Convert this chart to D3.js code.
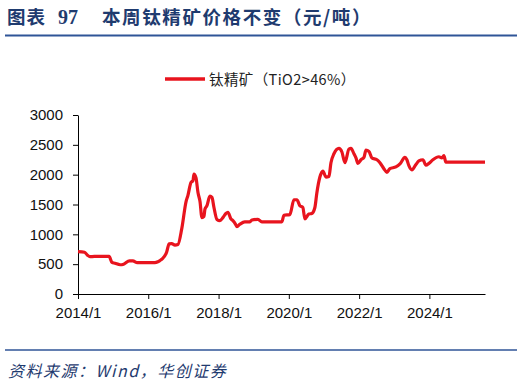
<!DOCTYPE html>
<html>
<head>
<meta charset="utf-8">
<script src="https://cdn.jsdelivr.net/npm/d3@7"></script>
<style>
  body { margin: 0; background: #fff; }
  svg { display: block; }
</style>
</head>
<body>
<svg id="chart" width="524" height="385"></svg>
<script>
// 钛精矿（TiO2>46%）价格，元/吨，读自原图
const dates = [
  "2014-01-01", "2014-03-10", "2014-04-10", "2014-05-05", "2014-06-20", "2014-11-20",
  "2014-12-20", "2015-01-20", "2015-03-15", "2015-04-20", "2015-06-20", "2015-07-25",
  "2015-09-10", "2016-03-10", "2016-04-10", "2016-05-01", "2016-06-01", "2016-07-10",
  "2016-08-05", "2016-09-01", "2016-10-05", "2016-11-05", "2016-12-15", "2017-01-28",
  "2017-02-16", "2017-03-20", "2017-04-10", "2017-04-20", "2017-05-11", "2017-06-01",
  "2017-06-22", "2017-07-12", "2017-08-02", "2017-08-12", "2017-09-02", "2017-10-03",
  "2017-10-24", "2017-11-14", "2017-12-15", "2018-01-15", "2018-02-15", "2018-03-18",
  "2018-04-08", "2018-05-09", "2018-05-30", "2018-06-30", "2018-07-11", "2018-08-11",
  "2018-10-01", "2018-11-23", "2018-12-13", "2019-02-14", "2019-03-27", "2019-10-21",
  "2019-11-11", "2020-01-12", "2020-02-23", "2020-03-25", "2020-04-25", "2020-05-26",
  "2020-06-16", "2020-07-27", "2020-08-27", "2020-09-28", "2020-10-18", "2020-11-19",
  "2020-12-20", "2021-01-21", "2021-02-21", "2021-03-14", "2021-04-14", "2021-06-05",
  "2021-07-06", "2021-08-06", "2021-09-17", "2021-10-08", "2021-11-08", "2021-11-29",
  "2021-12-19", "2022-01-20", "2022-02-20", "2022-03-13", "2022-04-13", "2022-05-14",
  "2022-07-05", "2022-08-05", "2022-09-15", "2022-10-16", "2022-11-17", "2023-01-18",
  "2023-03-01", "2023-04-22", "2023-05-12", "2023-06-02", "2023-07-03", "2023-08-14",
  "2023-09-14", "2023-10-26", "2023-11-26", "2023-12-27", "2024-02-07", "2024-04-09",
  "2024-05-10", "2024-05-31", "2024-06-20", "2025-08-01"
];
const prices = [
  710, 700, 650, 625, 630, 630,
  530, 515, 490, 500, 555, 555,
  525, 525, 540, 560, 600, 700,
  840, 845, 820, 830, 1100, 1550,
  1650, 1870, 1900, 2010, 1950, 1700,
  1550, 1280, 1300, 1420, 1480, 1640,
  1620, 1450, 1250, 1230, 1280, 1350,
  1370, 1260, 1230, 1160, 1130, 1170,
  1210, 1210, 1240, 1250, 1210, 1210,
  1320, 1330, 1580, 1580, 1480, 1450,
  1260, 1340, 1350, 1450, 1690, 1960,
  2060, 1960, 1970, 2200, 2350, 2440,
  2380, 2200, 2430, 2440, 2350, 2280,
  2190, 2250, 2290, 2410, 2390, 2280,
  2250, 2200, 2100, 2040, 2100, 2130,
  2180, 2290, 2250, 2150, 2080, 2170,
  2230, 2250, 2160, 2190, 2250, 2300,
  2280, 2320, 2210, 2210
];
const yTicks = [0, 500, 1000, 1500, 2000, 2500, 3000];
const xTickLabels = ["2014/1", "2016/1", "2018/1", "2020/1", "2022/1", "2024/1"];

const parse = d3.timeParse("%Y-%m-%d");
const data = dates.map((d, i) => ({ date: parse(d), value: prices[i] }));

const svg = d3.select("#chart");
const plotLeft = 78, plotRight = 485, plotTop = 115, plotBottom = 294;

const x = d3.scaleTime()
  .domain([parse("2014-01-01"), parse("2025-08-01")])
  .range([plotLeft, plotRight]);
const y = d3.scaleLinear().domain([0, 3000]).range([plotBottom, plotTop]);

// 标题
const title = svg.append("text")
  .attr("x", 7).attr("y", 24)
  .attr("fill", "#1f3b6f")
  .attr("font-family", "'Noto Sans CJK SC', sans-serif")
  .attr("font-weight", "bold")
  .attr("font-size", 18.5);
title.append("tspan").attr("letter-spacing", 1).text("图表");
title.append("tspan").attr("x", 58).attr("font-family", "'Liberation Serif', serif").attr("font-size", 20).text("97");
title.append("tspan").attr("x", 102).attr("letter-spacing", 1.6).text("本周钛精矿价格不变（元/吨）");

svg.append("line")
  .attr("x1", 5).attr("x2", 517).attr("y1", 35.5).attr("y2", 35.5)
  .attr("stroke", "#2f5597").attr("stroke-width", 2);

// 图例
svg.append("line")
  .attr("x1", 165).attr("x2", 205).attr("y1", 79).attr("y2", 79)
  .attr("stroke", "#e8141e").attr("stroke-width", 3.5);
svg.append("text")
  .attr("x", 209).attr("y", 84.5)
  .attr("fill", "#222")
  .attr("font-family", "'Noto Sans CJK SC', sans-serif")
  .attr("font-size", 14.5)
  .attr("letter-spacing", 0.4)
  .text("钛精矿（TiO2>46%）");

// 坐标轴
const yAxis = d3.axisLeft(y).tickValues(yTicks).tickFormat(d3.format("d"))
  .tickSize(5).tickSizeOuter(0).tickPadding(10);
const gy = svg.append("g").attr("transform", `translate(${plotLeft},0)`).call(yAxis);

const xTickDates = xTickLabels.map((s) => d3.timeParse("%Y/%m")(s));
const xAxis = d3.axisBottom(x).tickValues(xTickDates)
  .tickFormat((d, i) => xTickLabels[i])
  .tickSize(5).tickSizeOuter(0).tickPadding(8);
const gx = svg.append("g").attr("transform", `translate(0,${plotBottom})`).call(xAxis);

[gx, gy].forEach((g) => {
  g.selectAll("path, line").attr("stroke", "#000").attr("stroke-width", 1);
  g.selectAll("text")
    .attr("fill", "#111")
    .attr("font-family", "'Liberation Sans', Arial, sans-serif")
    .attr("font-size", 15);
});

// 折线
const line = d3.line()
  .x((d) => x(d.date))
  .y((d) => y(d.value))
  .curve(d3.curveMonotoneX);

svg.append("path")
  .datum(data)
  .attr("fill", "none")
  .attr("stroke", "#e8141e")
  .attr("stroke-width", 3.2)
  .attr("stroke-linejoin", "round")
  .attr("d", line);

// 底部
svg.append("line")
  .attr("x1", 5).attr("x2", 517).attr("y1", 350).attr("y2", 350)
  .attr("stroke", "#2f5597").attr("stroke-width", 1.5);

svg.append("text")
  .attr("x", 8).attr("y", 377)
  .attr("fill", "#1f3b6f")
  .attr("font-family", "'Noto Sans CJK SC', sans-serif")
  .attr("font-style", "italic")
  .attr("font-size", 16)
  .attr("letter-spacing", 1.5)
  .text("资料来源：Wind，华创证券");
</script>
</body>
</html>
